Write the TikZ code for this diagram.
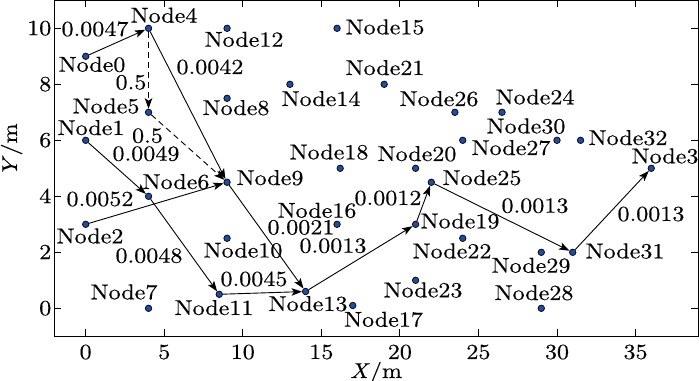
\documentclass[tikz,border=0pt]{standalone}
\usepackage{fontspec}
\setmainfont{lmroman10-regular.otf}[FakeStretch=1.12, FakeBold=0.4, ItalicFont=lmroman10-italic.otf]
\usetikzlibrary{arrows.meta}
\definecolor{dotblue}{RGB}{35,75,160}
\tikzset{
  dot/.style={circle, draw=black, fill=dotblue, line width=0.7pt, minimum size=6.5pt, inner sep=0pt},
  txt/.style={font=\fontsize{21.5}{24}\selectfont, inner sep=0pt, anchor=base},
  edge/.style={line width=0.9pt, -{Stealth[length=10.5pt,width=7.5pt,inset=2.5pt]}},
  dedge/.style={edge, dash pattern=on 6pt off 4pt},
  frame/.style={line width=1.2pt},
  axtick/.style={line width=1pt},
}
\begin{document}
\begin{tikzpicture}[x=15.71pt, y=28pt]
\useasboundingbox (-5.455,-2.596) rectangle (39.103,11.011);
\draw[frame] (-2,-1) rectangle (39,11);
\foreach \v in {0,5,...,35} {
  \draw[axtick] (\v,-1) -- ++(0,7pt);
  \draw[axtick] (\v,11) -- ++(0,-7pt);
}
\foreach \v in {0,2,...,10} {
  \draw[axtick] (-2,\v) -- ++(7pt,0);
  \draw[axtick] (39,\v) -- ++(-7pt,0);
}
% dots
\node[dot] (n0) at (0,9) {};
\node[dot] (n1) at (0,6) {};
\node[dot] (n2) at (0,3) {};
\node[dot] (n3) at (36,5) {};
\node[dot] (n4) at (4,10) {};
\node[dot] (n5) at (4,7) {};
\node[dot] (n6) at (4,4) {};
\node[dot] (n7) at (4,0) {};
\node[dot] (n8) at (9,7.5) {};
\node[dot] (n9) at (9,4.5) {};
\node[dot] (n10) at (9,2.5) {};
\node[dot] (n11) at (8.5,0.5) {};
\node[dot] (n12) at (9,10) {};
\node[dot] (n13) at (14,0.6) {};
\node[dot] (n14) at (13,8) {};
\node[dot] (n15) at (16,10) {};
\node[dot] (n16) at (16,3) {};
\node[dot] (n17) at (17,0.1) {};
\node[dot] (n18) at (16.2,5) {};
\node[dot] (n19) at (21,3) {};
\node[dot] (n20) at (21,5) {};
\node[dot] (n21) at (19,8) {};
\node[dot] (n22) at (24,2.5) {};
\node[dot] (n23) at (21,1) {};
\node[dot] (n24) at (26.5,7) {};
\node[dot] (n25) at (22,4.5) {};
\node[dot] (n26) at (23.5,7) {};
\node[dot] (n27) at (24,6) {};
\node[dot] (n28) at (29,0) {};
\node[dot] (n29) at (29,2) {};
\node[dot] (n30) at (30,6) {};
\node[dot] (n31) at (31,2) {};
\node[dot] (n32) at (31.5,6) {};
% edges
\draw[edge] (n0) -- (n4);
\draw[dedge] (n4) -- (n5);
\draw[edge] (n4) -- (n9);
\draw[dedge] (n5) -- (n9);
\draw[edge] (n1) -- (n6);
\draw[edge] (n2) -- (n9);
\draw[edge] (n6) -- (n11);
\draw[edge] (n11) -- (n13);
\draw[edge] (n9) -- (n13);
\draw[edge] (n13) -- (n19);
\draw[edge] (n19) -- (n25);
\draw[edge] (n25) -- (n31);
\draw[edge] (n31) -- (n3);
% texts in pixel coordinates
\begin{scope}[shift={(-5.455,11.011)}, x=1pt, y=-1pt]
\foreach \v in {0,5,...,35} \node[txt] (xt\v) at ({85.7+15.71*\v}, 359) {\v};
\foreach \v in {0,2,...,10} \node[txt, anchor=base east] (yt\v) at (51.5, {308.3-28*\v+6.8}) {\v};
\node[txt] (xlab) at (376, 378) {\textit{X}/m};
\node[txt, rotate=90] (ylab) at (17, 150) {\textit{Y}/m};
\node[txt] (l0) at (92, 71.7) {Node0};
\node[txt] (l1) at (91, 135) {Node1};
\node[txt] (l2) at (90, 243.3) {Node2};
\node[txt] (l3) at (665, 163.3) {Node3};
\node[txt] (l4) at (164, 22.6) {Node4};
\node[txt] (l5) at (106, 113.3) {Node5};
\node[txt] (l6) at (176, 189) {Node6};
\node[txt] (l7) at (124, 299.3) {Node7};
\node[txt] (l8) at (236, 115) {Node8};
\node[txt] (l9) at (270, 185) {Node9};
\node[txt] (l10) at (243, 257.5) {Node10};
\node[txt] (l11) at (214, 315) {Node11};
\node[txt] (l12) at (244, 46.7) {Node12};
\node[txt] (l13) at (308, 311) {Node13};
\node[txt] (l14) at (321, 106) {Node14};
\node[txt] (l15) at (385, 34.3) {Node15};
\node[txt] (l16) at (317, 217.7) {Node16};
\node[txt] (l17) at (383.5, 326.7) {Node17};
\node[txt] (l18) at (329, 159.3) {Node18};
\node[txt] (l19) at (460, 228.3) {Node19};
\node[txt] (l20) at (417, 161) {Node20};
\node[txt] (l21) at (385, 75) {Node21};
\node[txt] (l22) at (452, 258.3) {Node22};
\node[txt] (l23) at (423, 297.3) {Node23};
\node[txt] (l24) at (535, 104.3) {Node24};
\node[txt] (l25) at (482, 185) {Node25};
\node[txt] (l26) at (439, 106) {Node26};
\node[txt] (l27) at (511, 155) {Node27};
\node[txt] (l28) at (534, 300) {Node28};
\node[txt] (l29) at (531, 272.7) {Node29};
\node[txt] (l30) at (526, 133.3) {Node30};
\node[txt] (l31) at (625, 258.3) {Node31};
\node[txt] (l32) at (628, 145) {Node32};
\node[txt] (e04) at (95, 36) {0.0047};
\node[txt] (e45) at (131, 89.3) {0.5};
\node[txt] (e49) at (210, 74) {0.0042};
\node[txt] (e59) at (147.5, 142.7) {0.5};
\node[txt] (e16) at (146, 160.7) {0.0049};
\node[txt] (e29) at (100, 206) {0.0052};
\node[txt] (e611) at (149, 262.7) {0.0048};
\node[txt] (e1113) at (254, 286) {0.0045};
\node[txt] (e913) at (301, 234.3) {0.0021};
\node[txt] (e1319) at (333, 252.7) {0.0013};
\node[txt] (e1925) at (388, 205) {0.0012};
\node[txt] (e2531) at (535, 212.7) {0.0013};
\node[txt] (e313) at (651, 221) {0.0013};
\end{scope}
\end{tikzpicture}
\end{document}
